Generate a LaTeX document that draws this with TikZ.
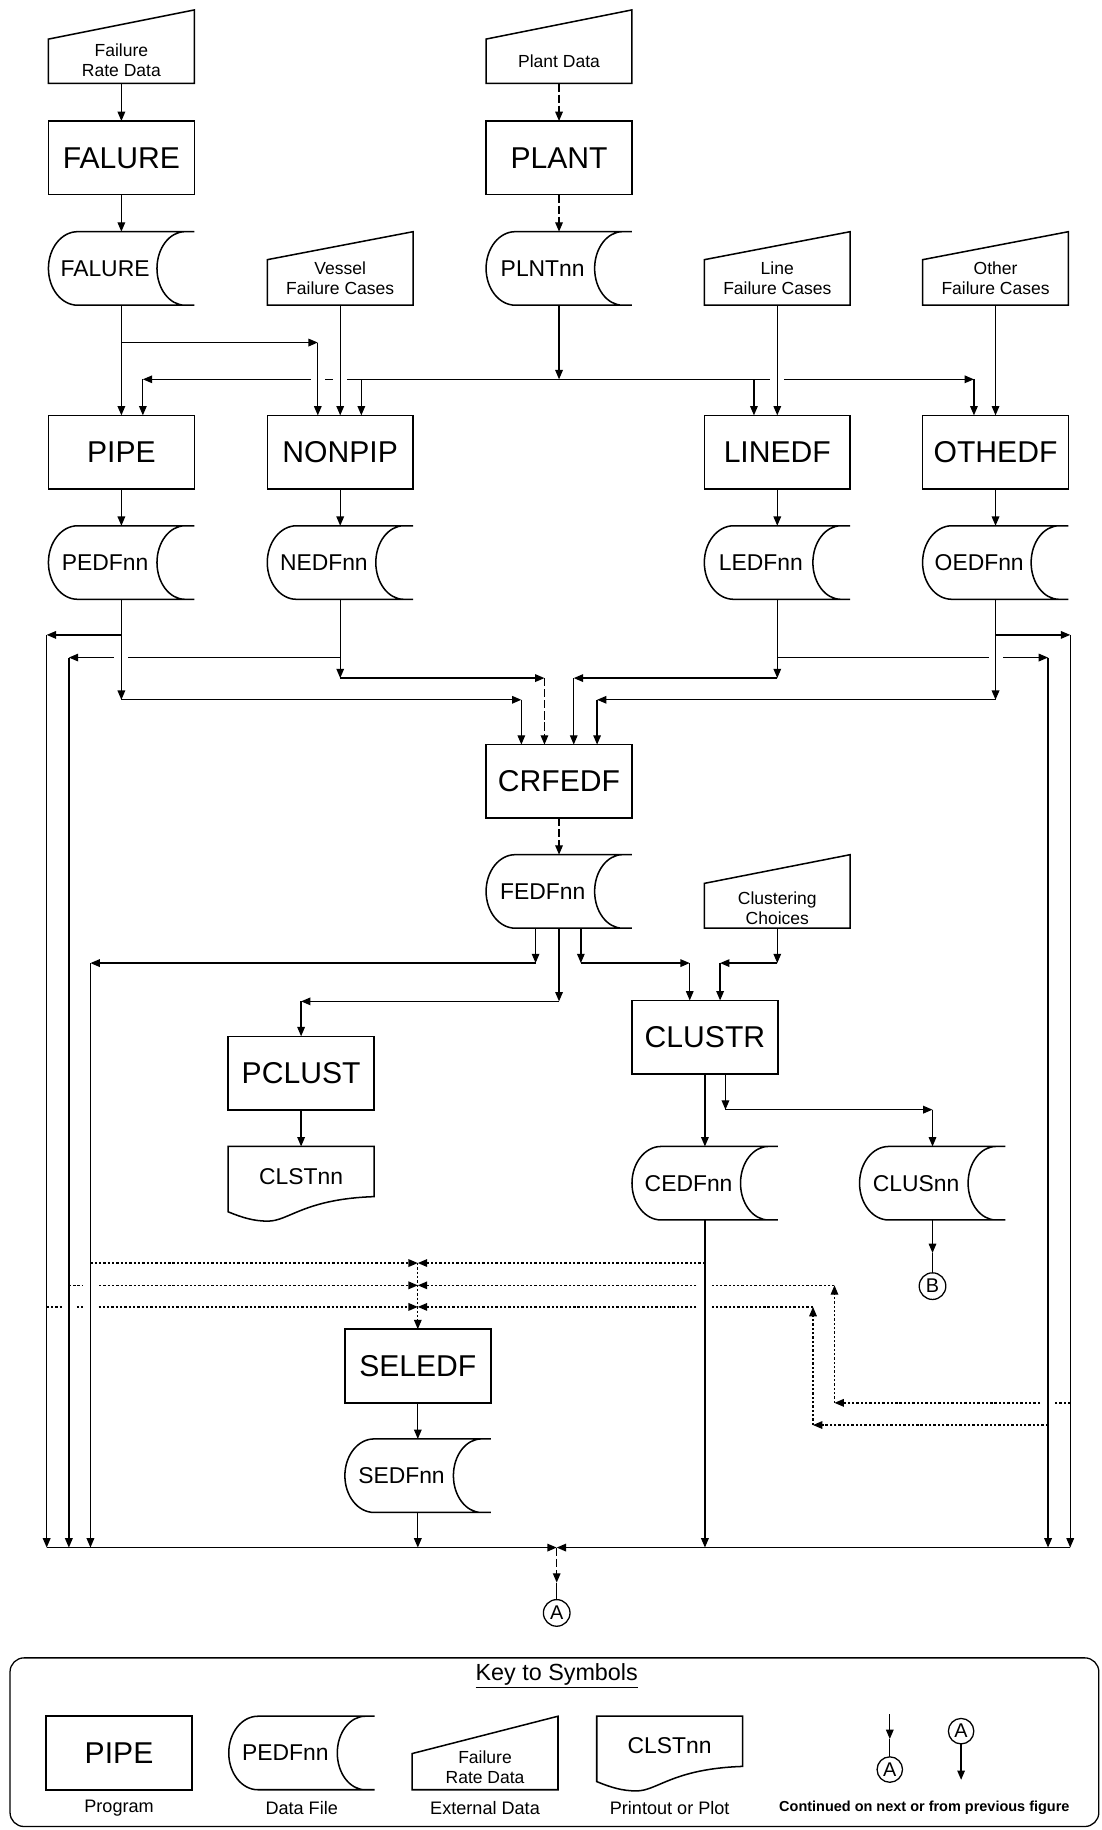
\documentclass[tikz,border=0pt]{standalone}
\usepackage{fontspec}
\setmainfont{Liberation Sans}
\usetikzlibrary{arrows.meta,calc}

% text helpers: shift text inside a fixed-size node without changing its size
\newcommand{\txtdown}[2]{\raisebox{-#1pt}[\height][\depth]{#2}}
\newcommand{\txtup}[2]{\raisebox{#1pt}[\height][\depth]{#2}}
\newcommand{\twoline}[2]{\begin{tabular}{@{}c@{}}#1\\#2\end{tabular}}
% label of a data file sits left of the node centre
\newcommand{\fname}[1]{#1\kern28pt}
% white patch that opens a crossing gap in a line drawn earlier
\newcommand{\xgap}[2]{\fill[white] (#1-6,#2-3.5) rectangle (#1+6,#2+3.5);}
% data file: rounded left side, concave right side
\newcommand{\fileshape}[1]{\draw[shapeline] (#1.south east) -- ($(#1.south west)+(25,0)$)
  arc[start angle=270,end angle=90,x radius=25pt,y radius=31.5pt] -- (#1.north east)
  -- ++(-8,0) arc[start angle=90,end angle=270,x radius=24pt,y radius=31.5pt] -- (#1.south east);}
% external data: slanted top edge
\newcommand{\extshape}[2]{\draw[shapeline] (#1.south west) -- ($(#1.north west)+(0,#2)$)
  -- (#1.north east) -- (#1.south east) -- cycle;}
% printout: wavy bottom edge
\newcommand{\printshape}[1]{\draw[shapeline] (#1.north west) -- ($(#1.south west)+(0,-7)$)
  .. controls ($(#1.south west)+(12,-2)$) and ($(#1.south west)+(22,1)$) .. ($(#1.south west)+(34,1)$)
  .. controls ($(#1.south west)+(52,1)$) and ($(#1.south east)+(-60,-18)$) .. ($(#1.south east)+(0,-20)$)
  -- (#1.north east) -- cycle;}

\tikzset{
  conn/.style={line width=1.1pt},
  arr/.style={conn,-{Triangle[length=8pt,width=6.5pt]}},
  brk/.style={dash pattern=on 7pt off 2.5pt},
  dotline/.style={line width=1.1pt,dash pattern=on 2pt off 1.7pt},
  darr/.style={dotline,-{Triangle[length=8pt,width=6.5pt]}},
  shapeline/.style={line width=1.3pt},
  basebox/.style={rectangle,minimum width=125pt,minimum height=63pt,inner sep=0pt,outer sep=0pt},
  progbox/.style={basebox,draw,shapeline,font=\fontsize{25.8}{30}\selectfont},
  filebox/.style={basebox,font=\fontsize{19.6}{23}\selectfont},
  extbox/.style={basebox,font=\fontsize{15}{17}\selectfont},
  printbox/.style={basebox,font=\fontsize{19.6}{23}\selectfont},
  circ/.style={circle,draw,conn,minimum size=22.8pt,inner sep=0pt,outer sep=0pt,font=\fontsize{17}{20}\selectfont},
  keylabel/.style={inner sep=0pt,font=\fontsize{15.5}{18}\selectfont},
}

\begin{document}
\begin{tikzpicture}[x=1pt,y=-1pt]
\useasboundingbox (0,0) rectangle (944,1568);

% ---------------- nodes ----------------
\node[extbox] (frd) at (104,40) {\txtdown{13.5}{\twoline{Failure}{Rate Data}}};
\node[extbox] (pdata) at (479,40) {\txtdown{12.8}{Plant Data}};
\node[progbox] (falure) at (104,135.2) {FALURE};
\node[progbox] (plant) at (479,135.2) {PLANT};
\node[filebox] (falfile) at (104,230) {\fname{FALURE}};
\node[filebox] (plntfile) at (479,230) {\fname{PLNTnn}};
\node[extbox] (vessel) at (291.5,230) {\txtdown{10.5}{\twoline{Vessel}{Failure Cases}}};
\node[extbox] (linefc) at (666,230) {\txtdown{10.5}{\twoline{Line}{Failure Cases}}};
\node[extbox] (otherfc) at (853,230) {\txtdown{10.5}{\twoline{Other}{Failure Cases}}};
\node[progbox] (pipe) at (104,387.4) {PIPE};
\node[progbox] (nonpip) at (291.5,387.4) {NONPIP};
\node[progbox] (linedf) at (666,387.4) {LINEDF};
\node[progbox] (othedf) at (853,387.4) {OTHEDF};
\node[filebox] (pedf) at (104,482) {\fname{PEDFnn}};
\node[filebox] (nedf) at (291.5,482) {\fname{NEDFnn}};
\node[filebox] (ledf) at (666,482) {\fname{LEDFnn}};
\node[filebox] (oedf) at (853,482) {\fname{OEDFnn}};
\node[progbox] (crfedf) at (479,669.5) {CRFEDF};
\node[filebox] (fedf) at (479,763.8) {\fname{FEDFnn}};
\node[extbox] (choices) at (666,763.8) {\txtdown{16.5}{\twoline{Clustering}{Choices}}};
\node[progbox] (pclust) at (258,919.4) {PCLUST};
\node[progbox] (clustr) at (604,888.7) {CLUSTR};
\node[printbox] (clst) at (258,1013.8) {\txtup{6}{CLSTnn}};
\node[filebox] (cedf) at (604,1013.8) {\fname{CEDFnn}};
\node[filebox] (clus) at (799,1013.8) {\fname{CLUSnn}};
\node[progbox] (seledf) at (358,1170.4) {SELEDF};
\node[filebox] (sedf) at (358,1264.4) {\fname{SEDFnn}};
\node[circ] (conA) at (477,1382) {A};
\node[circ] (conB) at (799,1102) {B};

% outlines of the non-rectangular symbols
\extshape{frd}{25}
\extshape{pdata}{25}
\extshape{vessel}{24}
\extshape{linefc}{24}
\extshape{otherfc}{24}
\extshape{choices}{24.6}
\fileshape{falfile}
\fileshape{plntfile}
\fileshape{pedf}
\fileshape{nedf}
\fileshape{ledf}
\fileshape{oedf}
\fileshape{fedf}
\fileshape{cedf}
\fileshape{clus}
\fileshape{sedf}
\printshape{clst}

% ---------------- junction points ----------------
\coordinate (fb) at (104,293.5);
\coordinate (fbc) at (272.3,293.5);
\coordinate (pd) at (479,325);
\coordinate (pdl) at (122.4,325);
\coordinate (pdr) at (834.5,325);
\coordinate (pdn) at (309.6,325);
\coordinate (pdlin) at (646,325);
\coordinate (pe1) at (104,544);
\coordinate (pe2) at (104,599.6);
\coordinate (pe3) at (446.7,599.6);
\coordinate (ne1) at (291.5,563.4);
\coordinate (ne2) at (291.5,581);
\coordinate (ne3) at (466.5,581);
\coordinate (le1) at (666,563.4);
\coordinate (le2) at (666,581);
\coordinate (le3) at (491.6,581);
\coordinate (oe1) at (853,544);
\coordinate (oe2) at (853,599.6);
\coordinate (oe3) at (511.6,599.6);
\coordinate (L1t) at (40,544);
\coordinate (L1b) at (40,1326);
\coordinate (L2t) at (59,563.4);
\coordinate (L2b) at (59,1326);
\coordinate (L3t) at (77.5,825.2);
\coordinate (L3b) at (77.5,1326);
\coordinate (R1t) at (898,563.4);
\coordinate (R1b) at (898,1326);
\coordinate (R2t) at (917,544);
\coordinate (R2b) at (917,1326);
\coordinate (fe1) at (458.9,825.2);
\coordinate (fe2) at (479,858);
\coordinate (fe2c) at (258,858);
\coordinate (fe3) at (497.7,825.2);
\coordinate (fe3c) at (591,825.2);
\coordinate (cc1) at (666,825.2);
\coordinate (cc2) at (617,825.2);
\coordinate (cl1) at (621.6,950.8);
\coordinate (cl2) at (799,950.8);
\coordinate (ce1) at (604,1326);
\coordinate (bmid) at (799,1073.6);
\coordinate (j1) at (358,1082.2);
\coordinate (j2) at (358,1101.3);
\coordinate (j3) at (358,1119.8);
\coordinate (d1l) at (77.5,1082.2);
\coordinate (d1r) at (604,1082.2);
\coordinate (d2l) at (59,1101.3);
\coordinate (d2r) at (715,1101.3);
\coordinate (d2c) at (715,1202);
\coordinate (d2s) at (917,1202);
\coordinate (d3l) at (40,1119.8);
\coordinate (d3r) at (696.6,1119.8);
\coordinate (d3c) at (696.6,1221);
\coordinate (d3s) at (898,1221);
\coordinate (se1) at (358,1326);
\coordinate (col) at (477,1326);
\coordinate (amid) at (477,1356);

% ---------------- lines that are crossed by others ----------------
\draw[arr] (pd) -- (pdl);
\draw[arr] (pd) -- (pdr);
\draw[arr] (ne1) -- (L2t);
\draw[arr] (le1) -- (R1t);
\draw[darr] (d2l) -- (j2);
\draw[darr] (d2r) -- (j2);
\draw[darr] (d3l) -- (j3);
\draw[darr] (d3r) -- (j3);
\draw[darr] (d2s) -- (d2c);

% crossing gaps
\xgap{272.3}{325}
\xgap{291.5}{325}
\xgap{666}{325}
\xgap{104}{563.4}
\xgap{853}{563.4}
\xgap{77.5}{1101.3}
\xgap{604}{1101.3}
\xgap{59}{1119.8}
\xgap{77.5}{1119.8}
\xgap{604}{1119.8}
\xgap{898}{1202}

% ---------------- upper flow ----------------
\draw[arr] (frd) -- (falure);
\draw[arr,brk] (pdata) -- (plant);
\draw[arr] (falure) -- (falfile);
\draw[arr,brk] (plant) -- (plntfile);
\draw[arr] (falfile) -- (pipe);
\draw[arr] (fb) -- (fbc);
\draw[arr] (fbc) -- (fbc |- nonpip.north);
\draw[arr] (plntfile) -- (pd);
\draw[arr] (pdl) -- (pdl |- pipe.north);
\draw[arr] (pdr) -- (pdr |- othedf.north);
\draw[arr] (pdn) -- (pdn |- nonpip.north);
\draw[arr] (pdlin) -- (pdlin |- linedf.north);
\draw[arr] (vessel) -- (nonpip);
\draw[arr] (linefc) -- (linedf);
\draw[arr] (otherfc) -- (othedf);
\draw[arr] (pipe) -- (pedf);
\draw[arr] (nonpip) -- (nedf);
\draw[arr] (linedf) -- (ledf);
\draw[arr] (othedf) -- (oedf);

% ---------------- edit files into CRFEDF and side buses ----------------
\draw[arr] (pedf) -- (pe2);
\draw[arr] (pe2) -- (pe3);
\draw[arr] (pe3) -- (pe3 |- crfedf.north);
\draw[arr] (pe1) -- (L1t);
\draw[arr] (L1t) -- (L1b);
\draw[arr] (nedf) -- (ne2);
\draw[arr] (ne2) -- (ne3);
\draw[arr,brk] (ne3) -- (ne3 |- crfedf.north);
\draw[arr] (L2t) -- (L2b);
\draw[arr] (ledf) -- (le2);
\draw[arr] (le2) -- (le3);
\draw[arr] (le3) -- (le3 |- crfedf.north);
\draw[arr] (R1t) -- (R1b);
\draw[arr] (oedf) -- (oe2);
\draw[arr] (oe2) -- (oe3);
\draw[arr] (oe3) -- (oe3 |- crfedf.north);
\draw[arr] (oe1) -- (R2t);
\draw[arr] (R2t) -- (R2b);

% ---------------- CRFEDF, FEDFnn and clustering ----------------
\draw[arr,brk] (crfedf) -- (fedf);
\draw[arr] (fe1 |- fedf.south) -- (fe1);
\draw[arr] (fe1) -- (L3t);
\draw[arr] (L3t) -- (L3b);
\draw[arr] (fedf) -- (fe2);
\draw[arr] (fe2) -- (fe2c);
\draw[arr] (fe2c) -- (pclust);
\draw[arr] (fe3 |- fedf.south) -- (fe3);
\draw[arr] (fe3) -- (fe3c);
\draw[arr] (fe3c) -- (fe3c |- clustr.north);
\draw[arr] (choices) -- (cc1);
\draw[arr] (cc1) -- (cc2);
\draw[arr] (cc2) -- (cc2 |- clustr.north);
\draw[arr] (pclust) -- (clst);
\draw[arr] (clustr) -- (cedf);
\draw[arr] (cl1 |- clustr.south) -- (cl1);
\draw[arr] (cl1) -- (cl2);
\draw[arr] (cl2) -- (clus);
\draw[arr] (cedf) -- (ce1);
\draw[arr] (clus) -- (bmid);
\draw[conn] (bmid) -- (conB);

% ---------------- selection inputs (dotted) ----------------
\draw[darr] (d1l) -- (j1);
\draw[darr] (d1r) -- (j1);
\draw[darr] (d2c) -- (d2r);
\draw[darr] (d3s) -- (d3c);
\draw[darr] (d3c) -- (d3r);
\draw[darr] (j1) -- (seledf);
\draw[arr] (seledf) -- (sedf);
\draw[arr] (sedf) -- (se1);

% ---------------- collector to connector A ----------------
\draw[arr] (L1b) -- (col);
\draw[arr] (R2b) -- (col);
\draw[arr,brk] (col) -- (amid);
\draw[conn] (amid) -- (conA);

% ---------------- key to symbols ----------------
\draw[conn,rounded corners=12pt] (8.6,1420.5) rectangle (941.5,1565);
\node[inner sep=0pt,font=\fontsize{20}{24}\selectfont] (keytitle) at (477,1436) {\underline{Key to Symbols}};
\node[progbox] (kprog) at (102,1502) {PIPE};
\node[filebox] (kfile) at (258.5,1502) {\fname{PEDFnn}};
\node[extbox] (kext) at (415.6,1502) {\txtdown{14}{\twoline{Failure}{Rate Data}}};
\node[printbox] (kprint) at (573.8,1502) {\txtup{6}{CLSTnn}};
\fileshape{kfile}
\extshape{kext}{32}
\printshape{kprint}
\node[keylabel] (lprog) at (102,1549) {Program};
\node[keylabel] (lfile) at (258.5,1549) {Data File};
\node[keylabel] (lext) at (415.6,1549) {External Data};
\node[keylabel] (lprint) at (573.8,1549) {Printout or Plot};
\node[inner sep=0pt,font=\bfseries\fontsize{12.4}{14}\selectfont] (lcont) at (792,1549) {Continued on next or from previous figure};
\coordinate (ka1top) at (762.4,1469);
\coordinate (ka1mid) at (762.4,1490);
\node[circ,minimum size=21.8pt] (ka1) at (762.4,1516.2) {A};
\draw[arr] (ka1top) -- (ka1mid);
\draw[conn] (ka1mid) -- (ka1);
\node[circ,minimum size=21.8pt] (ka2) at (823.5,1483.3) {A};
\coordinate (ka2end) at (823.5,1525);
\draw[arr] (ka2) -- (ka2end);

\end{tikzpicture}
\end{document}
